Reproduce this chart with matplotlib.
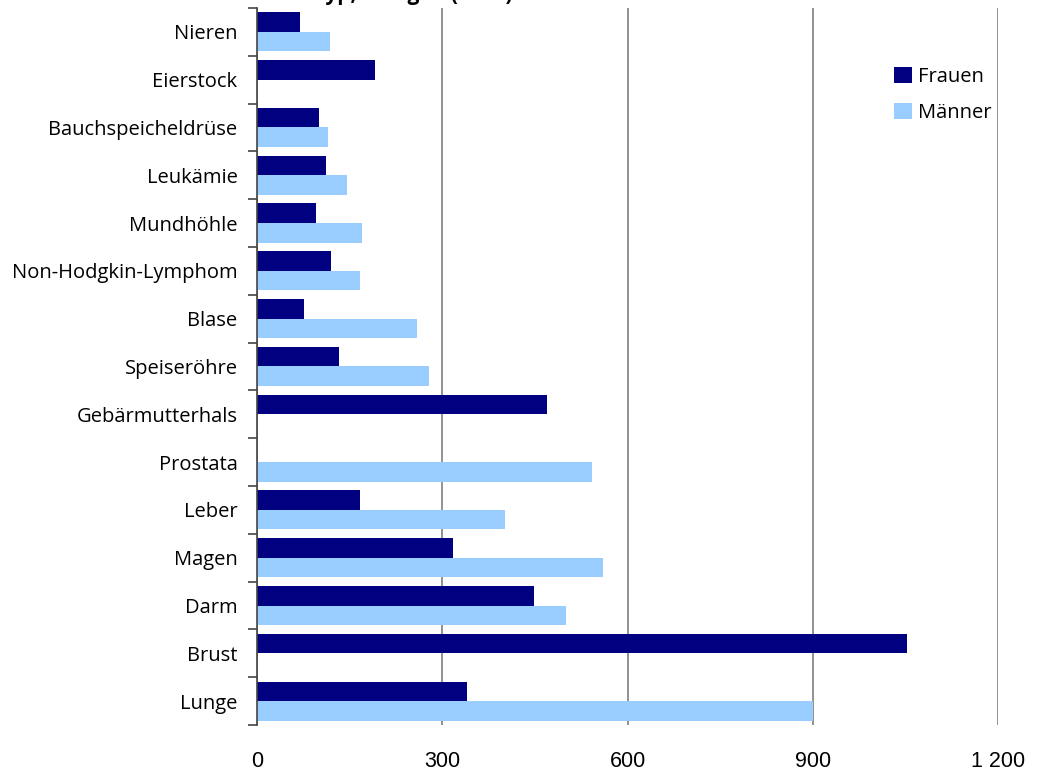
import numpy as np
import matplotlib.pyplot as plt

# --- Data (thousands) ---
categories = ['Nieren', 'Eierstock', 'Bauchspeicheldrüse', 'Leukämie', 'Mundhöhle',
              'Non-Hodgkin-Lymphom', 'Blase', 'Speiseröhre', 'Gebärmutterhals',
              'Prostata', 'Leber', 'Magen', 'Darm', 'Brust', 'Lunge']
frauen = [70, 191, 100, 112, 96, 120, 76, 133, 470, np.nan, 166, 318, 448, 1052, 340]
maenner = [118, np.nan, 115, 146, 170, 167, 259, 279, np.nan, 543, 401, 561, 501, np.nan, 900]
x_ticks = [0, 300, 600, 900, 1200]
x_labels = ['0', '300', '600', '900', '1 200']

navy = '#000080'
light = '#99CCFF'

plt.rcParams['font.family'] = ['Open Sans', 'DejaVu Sans']

fig = plt.figure(figsize=(10.39, 7.74), dpi=100)
ax = fig.add_axes([0.2474, 0.0633, 0.7131, 0.9264])

n = len(categories)
ypos = np.arange(n)[::-1]
h = 0.41
f = np.array(frauen, dtype=float)
m = np.array(maenner, dtype=float)
ok_f = ~np.isnan(f)
ok_m = ~np.isnan(m)
ax.barh(ypos[ok_f] + h / 2, f[ok_f], height=h, color=navy, label='Frauen', zorder=3)
ax.barh(ypos[ok_m] - h / 2, m[ok_m], height=h, color=light, label='Männer', zorder=3)

ax.set_xlim(0, 1200)
ax.set_ylim(-0.5, n - 0.5)

ax.set_yticks(ypos)
ax.set_yticklabels(categories, fontsize=14.5)
ax.set_yticks(np.arange(n + 1) - 0.5, minor=True)
ax.tick_params(axis='y', which='major', length=0, pad=14)
ax.tick_params(axis='y', which='minor', length=6.5, width=1.2, color='#444444', direction='out')

ax.set_xticks(x_ticks)
ax.set_xticklabels(x_labels, fontsize=15.5, family=['Liberation Sans', 'DejaVu Sans'])
ax.tick_params(axis='x', length=0, pad=19)

ax.grid(axis='x', color='#888888', linewidth=1.3, zorder=0)
for side in ['top', 'right', 'bottom']:
    ax.spines[side].set_visible(False)
ax.spines['left'].set_color('#444444')
ax.spines['left'].set_linewidth(1.2)
ax.spines['left'].set_zorder(4)

ax.legend(loc='upper left', bbox_to_anchor=(0.853, 0.924), bbox_transform=fig.transFigure,
          frameon=False, fontsize=14.5, handlelength=0.9, handleheight=0.8,
          handletextpad=0.3, labelspacing=0.8, borderaxespad=0)

# title runs off the top edge of the canvas
fig.text(513 / 1039, 1.0, 'Todesfälle nach Krebstyp, Mengen (1000)', ha='right',
         va='baseline', fontsize=15, fontweight='bold')

fig.savefig('out.png', dpi=100)
